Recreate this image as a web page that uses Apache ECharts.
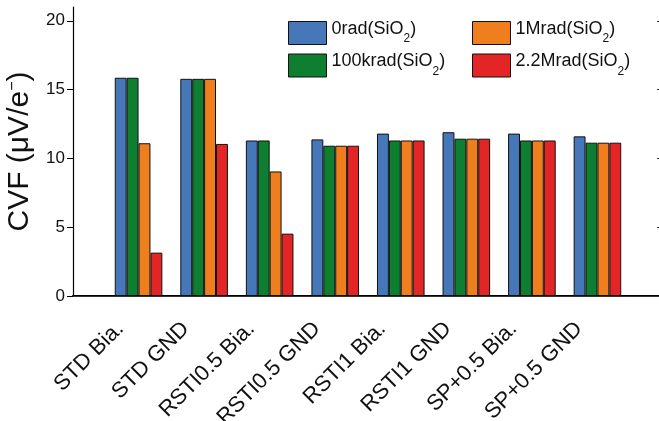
<!DOCTYPE html>
<html>
<head>
<meta charset="utf-8">
<script src="https://cdn.jsdelivr.net/npm/echarts@6/dist/echarts.min.js"></script>
<style>
  html, body { margin: 0; padding: 0; background: #fff; }
  #chart { width: 659px; height: 421px; }
</style>
</head>
<body>
<div id="chart"></div>
<script>
// Conversion factor of each pixel variant under total ionising dose
const categories = ['STD Bia.', 'STD GND', 'RSTI0.5 Bia.', 'RSTI0.5 GND',
                    'RSTI1 Bia.', 'RSTI1 GND', 'SP+0.5 Bia.', 'SP+0.5 GND'];
const dose0rad    = [15.86, 15.78, 11.30, 11.38, 11.80, 11.90, 11.80, 11.60];
const dose100krad = [15.86, 15.78, 11.30, 10.92, 11.30, 11.43, 11.30, 11.14];
const dose1Mrad   = [11.10, 15.78,  9.05, 10.92, 11.30, 11.43, 11.30, 11.14];
const dose2p2Mrad = [ 3.15, 11.05,  4.53, 10.92, 11.30, 11.43, 11.30, 11.14];
const yTicks = [0, 5, 10, 15, 20];

const FONT = '"Liberation Sans", Arial, sans-serif';

// empty slots at both ends keep the groups away from the frame
const xCats = [''].concat(categories, ['']);
const pad = arr => [null].concat(arr, [null]);

const seriesDefs = [
  { name: '0rad(SiO2)',    color: '#4577b9', data: dose0rad },
  { name: '100krad(SiO2)', color: '#0e7f30', data: dose100krad },
  { name: '1Mrad(SiO2)',   color: '#ef7f1e', data: dose1Mrad },
  { name: '2.2Mrad(SiO2)', color: '#e32526', data: dose2p2Mrad }
];

// legend entries: main text raised a little, the "2" of SiO2 set as a subscript
const legendBase = {
  orient: 'vertical',
  top: 15,
  itemWidth: 38,
  itemHeight: 23,
  itemGap: 7.5,
  icon: 'rect',
  itemStyle: { borderColor: '#111', borderWidth: 1 },
  formatter: n => {
    const parts = n.split('SiO2');
    return '{m|' + parts[0] + 'SiO}{sub|2}{m|' + parts[1] + '}';
  },
  textStyle: {
    fontFamily: FONT, fontSize: 18, color: '#111',
    rich: {
      m: { fontFamily: FONT, fontSize: 18, color: '#111', padding: [0, 0, 8, 0] },
      sub: { fontFamily: FONT, fontSize: 12, color: '#111', padding: [12, 0, 0, 0] }
    }
  }
};

const chart = echarts.init(document.getElementById('chart'), null, { renderer: 'canvas' });
chart.setOption({
  animation: false,
  backgroundColor: '#fff',
  grid: { left: 73, top: 7, right: -4, bottom: 125, containLabel: false, outerBoundsMode: 'none' },
  legend: [
    Object.assign({}, legendBase, { left: 283, data: ['0rad(SiO2)', '100krad(SiO2)'] }),
    Object.assign({}, legendBase, { left: 467, data: ['1Mrad(SiO2)', '2.2Mrad(SiO2)'] })
  ],
  xAxis: [
    {
      type: 'category',
      data: xCats,
      boundaryGap: false,
      position: 'bottom',
      axisLine: { lineStyle: { color: '#000', width: 2 } },
      axisTick: { show: false },
      axisLabel: {
        interval: 0, rotate: 45, margin: 11, padding: [0, 26, 2, 0],
        fontFamily: FONT, fontSize: 22, color: '#111'
      },
      splitLine: { show: false }
    },
    {
      type: 'category',
      data: xCats,
      boundaryGap: false,
      position: 'top',
      axisLine: { lineStyle: { color: '#333', width: 1 } },
      axisTick: { show: false },
      axisLabel: { show: false },
      splitLine: { show: false }
    }
  ],
  yAxis: [
    {
      type: 'value',
      min: 0, max: 21, interval: 5,
      name: 'CVF (μV/e{sup|−})',
      nameLocation: 'middle',
      nameRotate: 90,
      nameGap: 24,
      nameTextStyle: {
        fontFamily: FONT, fontSize: 30, color: '#111',
        rich: { sup: { fontFamily: FONT, fontSize: 16, color: '#111', padding: [0, 0, 16, 0] } }
      },
      axisLine: { show: true, lineStyle: { color: '#000', width: 1.2 } },
      axisTick: { show: true, inside: false, length: 6, customValues: yTicks, lineStyle: { color: '#000' } },
      axisLabel: { customValues: yTicks, margin: 8, fontFamily: FONT, fontSize: 17, color: '#111' },
      splitLine: { show: false }
    },
    {
      type: 'value',
      min: 0, max: 21, interval: 5,
      position: 'right',
      axisLine: { show: true, lineStyle: { color: '#333', width: 1 } },
      axisTick: { show: true, inside: true, length: 6, customValues: yTicks, lineStyle: { color: '#333' } },
      axisLabel: { show: false },
      splitLine: { show: false }
    }
  ],
  series: seriesDefs.map(s => ({
    name: s.name,
    type: 'bar',
    xAxisIndex: 0,
    yAxisIndex: 0,
    data: pad(s.data),
    barWidth: 11.9,
    barGap: '0%',
    itemStyle: { color: s.color, borderColor: '#111', borderWidth: 1 }
  }))
});
</script>
</body>
</html>
